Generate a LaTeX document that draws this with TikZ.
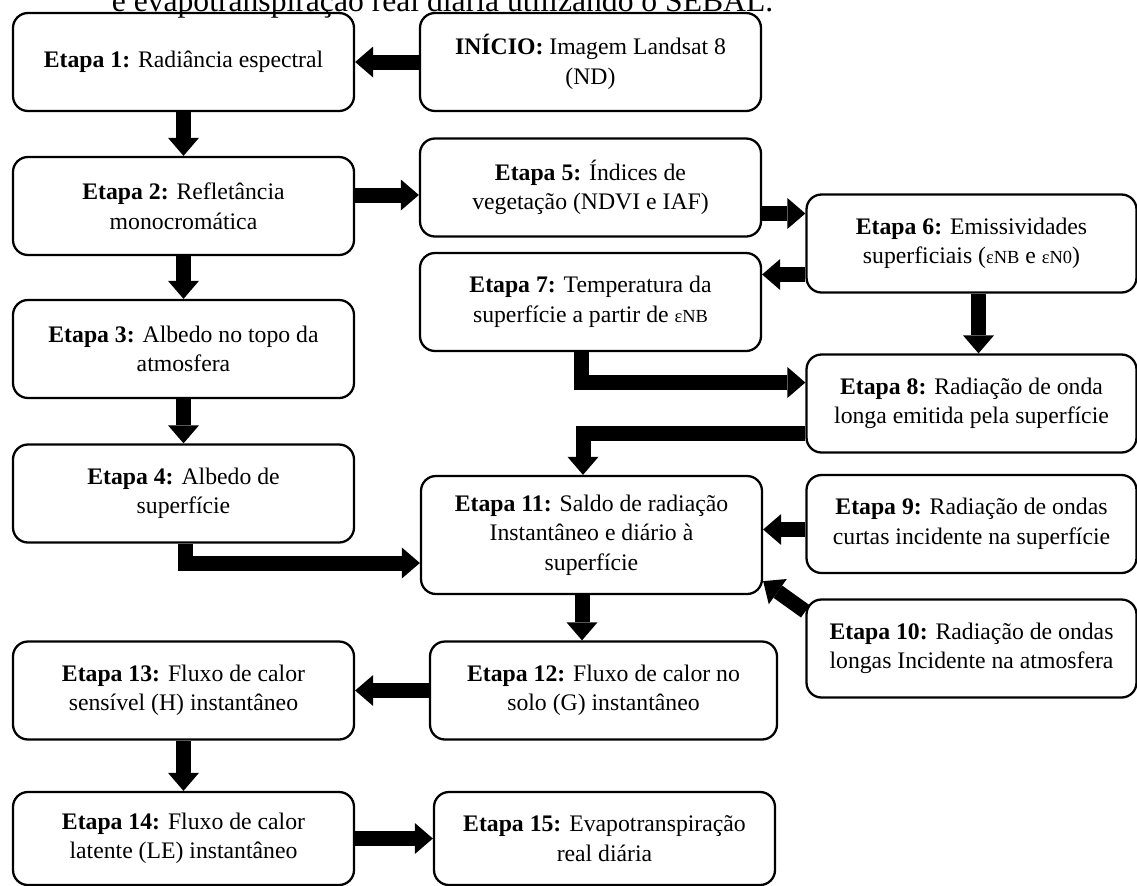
\documentclass[tikz,border=0pt]{standalone}
\usepackage{fontspec}
\setmainfont{Liberation Serif}
\usepackage{tikz}
\usetikzlibrary{arrows.meta,shapes,positioning}

\newcommand{\emis}[1]{{\fontsize{10.5}{12}\selectfont ε#1}}

\begin{document}
\begin{tikzpicture}[auto, line width=1.3pt,
    block/.style={rectangle, draw, rounded corners=0.3cm, align=center, minimum width=6.82cm, minimum height=1.96cm, font=\fontsize{13.5}{16.8}\selectfont},
    wide/.style={block, minimum width=6.6cm},
    line/.style={draw, line width=0.3cm, rounded corners=0pt, -{Triangle[width=0.62cm, length=0.36cm, line width=0pt]}}]

    \useasboundingbox (0,0) rectangle (22.74,-17.72);
    \clip (0,0) rectangle (22.74,-17.72);

    \node [anchor=base, font=\fontsize{18}{21}\selectfont] (title) at (8.85,-0.22) {e evapotranspiração real diária utilizando o SEBAL.};

    \node [block] (e1) at (3.67,-1.24) {\textbf{Etapa 1:} Radiância espectral};
    \node [block, right of=e1, node distance=8.14cm] (inicio) {\textbf{INÍCIO:} Imagem Landsat 8\\(ND)};

    \node [block, below of=e1, node distance=2.88cm] (e2) {\textbf{Etapa 2:} Refletância\\monocromática};
    \node [block, below of=e2, node distance=2.86cm] (e3) {\textbf{Etapa 3:} Albedo no topo da\\atmosfera};
    \node [block, below of=e3, node distance=2.89cm] (e4) {\textbf{Etapa 4:} Albedo de\\superfície};

    \node [block, below of=inicio, node distance=2.51cm] (e5) {\textbf{Etapa 5:} Índices de\\vegetação (NDVI e IAF)};
    \node [wide, right of=e5, node distance=7.62cm, yshift=-1.12cm] (e6) {\textbf{Etapa 6:} Emissividades\\superficiais (\emis{NB} e \emis{N0})};
    \node [block, below of=e5, node distance=2.29cm] (e7) {\textbf{Etapa 7:} Temperatura da\\superfície a partir de \emis{NB}};

    \node [wide, below of=e6, node distance=3.2cm] (e8) {\textbf{Etapa 8:} Radiação de onda\\longa emitida pela superfície};
    \node [wide, below of=e8, node distance=2.41cm] (e9) {\textbf{Etapa 9:} Radiação de ondas\\curtas incidente na superfície};
    \node [wide, below of=e9, node distance=2.49cm] (e10) {\textbf{Etapa 10:} Radiação de ondas\\longas Incidente na atmosfera};

    \node [block, minimum height=2.36cm, right of=e4, node distance=8.16cm, yshift=-0.83cm] (e11) {\textbf{Etapa 11:} Saldo de radiação\\Instantâneo e diário à\\superfície};

    \node [block, below of=e4, node distance=3.94cm] (e13) {\textbf{Etapa 13:} Fluxo de calor\\sensível (H) instantâneo};
    \node [block, minimum width=6.94cm, right of=e13, node distance=8.4cm] (e12) {\textbf{Etapa 12:} Fluxo de calor no\\solo (G) instantâneo};

    \node [block, minimum height=1.86cm, below of=e13, node distance=2.96cm] (e14) {\textbf{Etapa 14:} Fluxo de calor\\latente (LE) instantâneo};
    \node [block, minimum height=1.86cm, right of=e14, node distance=8.42cm] (e15) {\textbf{Etapa 15:} Evapotranspiração\\real diária};

    \path [line] (inicio) -- (e1);
    \path [line] (e1) -- (e2);
    \path [line] (e2) -- (e3);
    \path [line] (e3) -- (e4);
    \path [line] ([yshift=0.22cm]e2.east) -- ([yshift=0.22cm]e2.east -| e5.west);
    \path [line] ([yshift=-0.52cm]e5.east) -- ([yshift=-0.52cm]e5.east -| e6.west);
    \path [line] ([yshift=-0.62cm]e6.west) -- ([yshift=-0.62cm]e6.west -| e7.east);
    \path [line] ([xshift=0.14cm]e6.south) -- ([xshift=0.14cm]e6.south |- e8.north);
    \path [line] ([xshift=-0.18cm]e7.south) |- ([yshift=0.42cm]e8.west);
    \path [line] ([yshift=-0.6cm]e8.west) -| ([xshift=-0.17cm]e11.north);
    \path [line] ([xshift=0.03cm]e4.south) |- ([yshift=-0.56cm]e11.west);
    \path [line] ([yshift=-0.11cm]e9.west) -- ([yshift=-0.11cm]e9.west -| e11.east);
    \path [line] ([yshift=-0.26cm]e10.north west) -- ([yshift=0.28cm]e11.south east);
    \path [line] ([xshift=-0.19cm]e11.south) -- ([xshift=-0.19cm]e11.south |- e12.north);
    \path [line] (e12) -- (e13);
    \path [line] (e13) -- (e14);
    \path [line] (e14) -- (e15);
\end{tikzpicture}
\end{document}
